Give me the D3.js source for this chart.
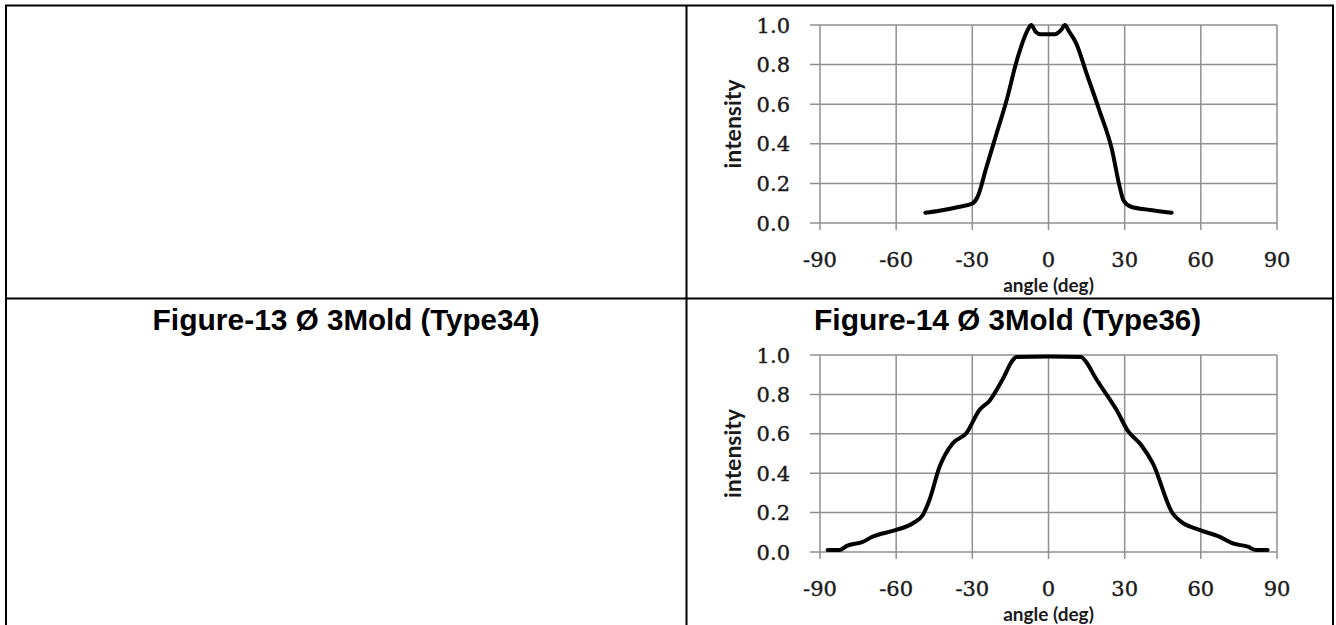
<!DOCTYPE html>
<html>
<head>
<meta charset="utf-8">
<script src="https://cdn.jsdelivr.net/npm/d3@7"></script>
<style>
  body { margin: 0; background: #fff; }
</style>
</head>
<body>
<div id="my_dataviz"></div>
<script>
// axis ticks
var xTicks = [-90, -60, -30, 0, 30, 60, 90];
var yTicks = [0.0, 0.2, 0.4, 0.6, 0.8, 1.0];

// Figure-12 (top, type not visible)
var topAngle = [-48.5, -43, -35, -30, -28, -24.5, -20.5, -16.5, -12.5, -10, -8, -6.8, -5, -3, 0, 2.5, 5, 6.5, 8, 11, 15, 20, 25, 28, 29.5, 32.5, 40, 48.5];
var topIntensity = [0.052, 0.062, 0.082, 0.099, 0.13, 0.28, 0.45, 0.62, 0.82, 0.92, 0.98, 1.0, 0.965, 0.953, 0.953, 0.953, 0.975, 1.0, 0.97, 0.905, 0.755, 0.57, 0.37, 0.185, 0.115, 0.082, 0.066, 0.052];

// Figure-14 Type36 (bottom)
var botAngle = [-87, -82.3, -79.6, -73, -69.8, -60, -53.4, -49.5, -46.9, -42.9, -37.7, -32.4, -27.2, -23.2, -18, -14, -12.7, 0, 12.9, 14.5, 18.8, 24, 26.6, 31.2, 36.5, 41.1, 48.9, 52.2, 59.4, 67.3, 72.6, 78.5, 81.8, 86.3];
var botIntensity = [0.01, 0.01, 0.03, 0.052, 0.075, 0.112, 0.146, 0.188, 0.264, 0.433, 0.552, 0.603, 0.721, 0.768, 0.878, 0.975, 0.99, 0.992, 0.99, 0.97, 0.878, 0.777, 0.726, 0.616, 0.543, 0.45, 0.196, 0.154, 0.112, 0.078, 0.044, 0.027, 0.01, 0.01];

var headings = [
  {big: "Figure-13 ", small: "Ø 3Mold (Type34)", cx: 346},
  {big: "Figure-14 ", small: "Ø 3Mold (Type36)", cx: 1007.5}
];

var width = 1336, height = 625;

var svg = d3.select("#my_dataviz")
.append("svg")
  .attr("width", width)
  .attr("height", height);

// table borders
var border = svg.append("g")
  .attr("stroke", "black")
  .attr("stroke-width", 2);
border.append("line").attr("x1", 5).attr("x2", 1334).attr("y1", 5.5).attr("y2", 5.5);
border.append("line").attr("x1", 6).attr("x2", 6).attr("y1", 5).attr("y2", height);
border.append("line").attr("x1", 1333).attr("x2", 1333).attr("y1", 5).attr("y2", height);
border.append("line").attr("x1", 686.5).attr("x2", 686.5).attr("y1", 5).attr("y2", height);
border.append("line").attr("x1", 6).attr("x2", 1333).attr("y1", 298.5).attr("y2", 298.5);

// headings
headings.forEach(function(h) {
  var t = svg.append("text")
    .attr("x", h.cx)
    .attr("y", 330)
    .attr("text-anchor", "middle")
    .style("font-family", "'Liberation Sans', Arial, sans-serif")
    .style("font-weight", "bold")
    .attr("fill", "black");
  t.append("tspan").style("font-size", "30px").text(h.big);
  t.append("tspan").style("font-size", "29.5px").text(h.small);
});

function drawChart(angles, values, y0, y1) {
  var x = d3.scaleLinear().domain([-90, 90]).range([820, 1277]);
  var y = d3.scaleLinear().domain([0, 1]).range([y0, y1]);
  var g = svg.append("g");

  // gridlines
  g.append("g")
    .selectAll("line")
    .data(yTicks)
    .enter()
    .append("line")
      .attr("x1", x(-90) - 10)
      .attr("x2", x(90))
      .attr("y1", d => y(d))
      .attr("y2", d => y(d))
      .attr("stroke", "#8f8f8f")
      .attr("stroke-width", 1.5);

  g.append("g")
    .selectAll("line")
    .data(xTicks)
    .enter()
    .append("line")
      .attr("x1", d => x(d))
      .attr("x2", d => x(d))
      .attr("y1", y(1))
      .attr("y2", y(0) + 7)
      .attr("stroke", "#8f8f8f")
      .attr("stroke-width", 1.5);

  // tick labels
  g.append("g")
    .selectAll("text")
    .data(yTicks)
    .enter()
    .append("text")
      .attr("x", 790)
      .attr("y", d => y(d))
      .attr("dy", "0.36em")
      .attr("text-anchor", "end")
      .style("font-family", "'DejaVu Serif', serif")
      .style("font-size", "21px")
      .attr("fill", "#1a1a1a")
      .attr("stroke", "#1a1a1a")
      .attr("stroke-width", 0.4)
      .text(d => d3.format(".1f")(d));

  g.append("g")
    .selectAll("text")
    .data(xTicks)
    .enter()
    .append("text")
      .attr("x", d => x(d))
      .attr("y", y(0) + 36.5)
      .attr("dy", "0.36em")
      .attr("text-anchor", "middle")
      .style("font-family", "'DejaVu Serif', serif")
      .style("font-size", "21px")
      .attr("fill", "#1a1a1a")
      .attr("stroke", "#1a1a1a")
      .attr("stroke-width", 0.4)
      .text(d => d);

  // axis titles
  g.append("text")
    .attr("transform", "translate(733," + y(0.5) + ") rotate(-90)")
    .attr("dy", "0.36em")
    .attr("text-anchor", "middle")
    .style("font-family", "Lato, 'Open Sans', sans-serif")
    .style("font-weight", "bold")
    .style("font-size", "23px")
    .attr("fill", "#1a1a1a")
    .text("intensity");

  g.append("text")
    .attr("x", x(0))
    .attr("y", y(0) + 68.5)
    .attr("text-anchor", "middle")
    .style("font-family", "Lato, 'Open Sans', sans-serif")
    .style("font-weight", "bold")
    .style("font-size", "19px")
    .attr("fill", "#1a1a1a")
    .text("angle (deg)");

  // curve
  var line = d3.line()
    .x((d, i) => x(angles[i]))
    .y(d => y(d))
    .curve(d3.curveMonotoneX);

  g.append("path")
    .datum(values)
    .attr("fill", "none")
    .attr("stroke", "black")
    .attr("stroke-width", 4)
    .attr("stroke-linejoin", "round")
    .attr("stroke-linecap", "round")
    .attr("d", line);
}

drawChart(topAngle, topIntensity, 223, 25);
drawChart(botAngle, botIntensity, 552, 355);
</script>
</body>
</html>
